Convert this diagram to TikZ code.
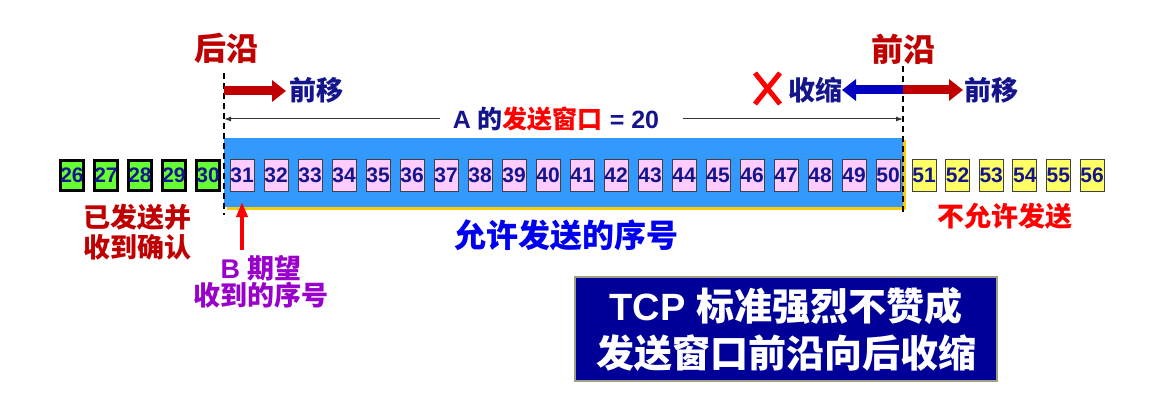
\documentclass[tikz,border=0pt]{standalone}
\usepackage{fontspec}
\setmainfont{Liberation Sans}
\newfontfamily\cjk{Noto Sans CJK SC}
\usetikzlibrary{arrows.meta}
\definecolor{navy}{HTML}{14148C}
\definecolor{darkred}{HTML}{C00000}
\definecolor{winblue}{HTML}{3399FF}
\definecolor{shadowy}{HTML}{FFCC00}
\definecolor{pinkbox}{HTML}{FFCCFF}
\definecolor{greenbox}{HTML}{66FF33}
\definecolor{yellowbox}{HTML}{FFFF66}
\definecolor{purpletxt}{HTML}{9900CC}
\definecolor{brightblue}{HTML}{0000F0}
\definecolor{notebg}{HTML}{000099}
\definecolor{notebd}{HTML}{A0A080}
\definecolor{arrowblue}{HTML}{0000C0}
\begin{document}
\begin{tikzpicture}[x=1pt,y=-1pt,
  seq/.style={draw=black!75, line width=1pt, minimum width=24pt, minimum height=32pt, inner sep=0pt,
    font=\fontsize{21}{24}\selectfont\bfseries, text=navy},
  acked/.style={seq, draw=black, line width=2.5pt, fill=greenbox, minimum width=22pt, minimum height=30pt},
  inwin/.style={seq, fill=pinkbox},
  outwin/.style={seq, fill=yellowbox},
  edge/.style={draw=black, line width=1.8pt, dash pattern=on 6pt off 4pt},
  bigarrow/.style={line width=9pt, -{Triangle[length=14pt,width=21pt]}},
  dimline/.style={draw=black!80, line width=1pt},
  lbl/.style={inner sep=0pt, align=center},
]
\useasboundingbox (0,0) rectangle (1155,414);

% sending window background with yellow edge
\fill[shadowy] (227,140) rectangle (906,209.5);
\node[fill=winblue, inner sep=0pt, minimum width=679pt, minimum height=69pt, anchor=north west] (win) at (224,137.5) {};

% sequence boxes
\foreach \i in {26,...,30}
  \node[acked] (b\i) at ({72+(\i-26)*34},175.5) {\i};
\foreach \i in {31,...,50}
  \node[inwin] (b\i) at ({72+(\i-26)*34},175.5) {\i};
\foreach \i in {51,...,56}
  \node[outwin] (b\i) at ({924+(\i-51)*33.6},175.5) {\i};

% edges of window
\coordinate (rearT) at (224,73);
\coordinate (rearB) at (224,215);
\coordinate (frontT) at (903,66);
\coordinate (frontB) at (903,213);
\draw[edge] (rearT) -- (rearB);
\draw[edge] (frontT) -- (frontB);

\node[lbl, text=darkred, font=\fontsize{32}{34}\selectfont\cjk\bfseries] (rearlbl) at (226,48) {后沿};
\node[lbl, text=darkred, font=\fontsize{32}{34}\selectfont\cjk\bfseries] (frontlbl) at (903,49) {前沿};

% move arrows
\coordinate (rearA) at (224,91);
\coordinate (rearAe) at (286,91);
\draw[bigarrow, darkred] (rearA) -- (rearAe);
\node[lbl, text=navy, font=\fontsize{27}{30}\selectfont\cjk\bfseries] (mvL) at (316,90) {前移};

\coordinate (frontA) at (903,90);
\coordinate (frontAr) at (963,90);
\coordinate (frontAl) at (842,90);
\draw[bigarrow, darkred] (frontA) -- (frontAr);
\draw[bigarrow, arrowblue] (frontA) -- (frontAl);
\node[lbl, text=navy, font=\fontsize{27}{30}\selectfont\cjk\bfseries] (mvR) at (991,90) {前移};
\node[lbl, text=navy, font=\fontsize{27}{30}\selectfont\cjk\bfseries] (shrink) at (815,90) {收缩};
\coordinate (xa) at (755,73);
\coordinate (xb) at (780,104);
\coordinate (xc) at (780,73);
\coordinate (xd) at (755,104);
\draw[red, line width=5pt] (xa) -- (xb);
\draw[red, line width=5pt] (xc) -- (xd);

% window size dimension
\node[lbl, font=\fontsize{25}{28}\selectfont\bfseries, text=navy] (dim) at (556,119)
  {A {\cjk 的}\textcolor{red}{\cjk 发送窗口} = 20};
\coordinate (dimL) at (224,119);
\coordinate (dimR) at (903,119);
\draw[dimline, {Latex[length=7pt,width=5pt]}-] (dimL) -- ([xshift=-13pt]dim.west);
\draw[dimline, -{Latex[length=7pt,width=5pt]}] ([xshift=24pt]dim.east) -- (dimR);

% labels below
\node[lbl, text=brightblue, font=\fontsize{32}{34}\selectfont\cjk\bfseries] (allowed) at (566,235) {允许发送的序号};
\node[lbl, text=darkred, font=\fontsize{27}{30}\selectfont\cjk\bfseries] (acklbl) at (137,232) {已发送并\\收到确认};
\node[lbl, text=red, font=\fontsize{27}{30}\selectfont\cjk\bfseries] (notallowed) at (1005,216) {不允许发送};
\node[lbl, text=purpletxt, font=\fontsize{27}{27}\selectfont\bfseries] (expect) at (261,282) {B {\cjk 期望}\\{\cjk 收到的序号}};
\coordinate (expA) at (242,250);
\draw[red, line width=3.5pt, -{Triangle[length=15pt,width=11pt]}, shorten >=10pt] (expA) -- (b31.south);

% note box
\node[draw=notebd, line width=1.2pt, fill=notebg, text=white, inner sep=0pt,
  minimum width=422pt, minimum height=104pt, align=center,
  font=\fontsize{38}{47}\selectfont\bfseries] (note) at (786,329)
  {TCP {\cjk 标准强烈不赞成}\\{\cjk 发送窗口前沿向后收缩}};
\end{tikzpicture}
\end{document}
